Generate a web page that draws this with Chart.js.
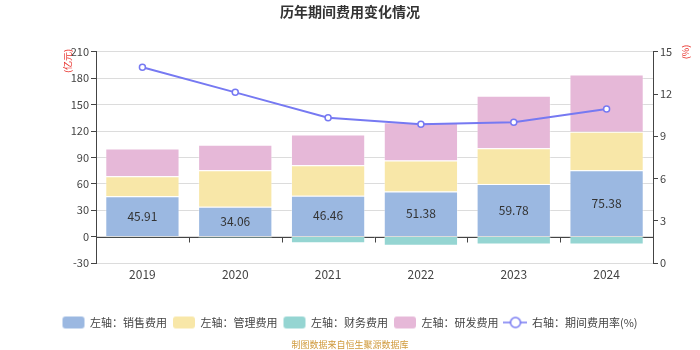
<!DOCTYPE html>
<html>
<head>
<meta charset="utf-8">
<script src="https://cdn.jsdelivr.net/npm/chart.js@4"></script>
<style>
  html, body { margin: 0; padding: 0; background: #fff; }
  #wrap { width: 700px; height: 350px; }
</style>
</head>
<body>
<div id="wrap"><canvas id="chart" width="700" height="350"></canvas></div>
<script>
const years = ["2019", "2020", "2021", "2022", "2023", "2024"];
const sales = [45.91, 34.06, 46.46, 51.38, 59.78, 75.38];
const admin = [22.6, 41.3, 34.6, 35.0, 40.7, 43.7];
const finance = [-0.8, -1.2, -7.6, -10.3, -9.1, -9.1];
const rnd = [31.6, 28.9, 35.1, 43.7, 59.7, 65.1];
const rate = [13.9, 12.12, 10.31, 9.86, 10.0, 10.93];

const leftTicks = [-30, 0, 30, 60, 90, 120, 150, 180, 210];
const rightTicks = [0, 3, 6, 9, 12, 15];

const FONT = "'Noto Sans CJK SC', 'Noto Sans', sans-serif";
const colors = {
  sales: "#9bb8e1",
  admin: "#f8e7a8",
  finance: "#95d5d2",
  rnd: "#e6b8d8",
  line: "#7679f2"
};

function legendIcon(type, color){
  const c = document.createElement("canvas");
  c.width = 24; c.height = 14;
  const g = c.getContext("2d");
  if(type === "box"){
    g.fillStyle = color;
    g.beginPath();
    g.roundRect(1, 1, 22, 12, 3);
    g.fill();
  } else {
    g.strokeStyle = color;
    g.lineWidth = 1.5;
    g.beginPath(); g.moveTo(0, 7); g.lineTo(24, 7); g.stroke();
    g.fillStyle = "#fff";
    g.beginPath(); g.arc(12, 7, 5, 0, Math.PI * 2); g.fill(); g.stroke();
  }
  return c;
}

const extras = {
  id: "extras",
  beforeDatasetsDraw(chart){
    const ctx = chart.ctx;
    const x = chart.scales.x, y = chart.scales.y;
    const y0 = Math.round(y.getPixelForValue(0)) + 0.5;
    ctx.save();
    ctx.strokeStyle = "#444";
    ctx.lineWidth = 1;
    ctx.beginPath();
    ctx.moveTo(x.left, y0); ctx.lineTo(x.right, y0);
    for(let i = 0; i <= years.length; i++){
      const px = Math.round(x.left + (x.right - x.left) * i / years.length) + 0.5;
      ctx.moveTo(px, y0); ctx.lineTo(px, y0 + 5);
    }
    ctx.stroke();
    ctx.restore();
  },
  afterDatasetsDraw(chart){
    const ctx = chart.ctx;
    const meta = chart.getDatasetMeta(1);
    ctx.save();
    ctx.font = "12px " + FONT;
    ctx.fillStyle = "#333";
    ctx.textAlign = "center";
    ctx.textBaseline = "middle";
    meta.data.forEach((bar, i) => {
      ctx.fillText(sales[i].toFixed(2), bar.x, (bar.y + bar.base) / 2);
    });
    ctx.restore();
  },
  afterDraw(chart){
    const ctx = chart.ctx;
    ctx.save();
    ctx.font = "9px " + FONT;
    ctx.fillStyle = "#e8302a";
    ctx.textAlign = "center";
    ctx.textBaseline = "middle";
    ctx.translate(68, 61); ctx.rotate(-Math.PI / 2);
    ctx.fillText("(亿元)", 0, 0);
    ctx.restore();
    ctx.save();
    ctx.font = "9px " + FONT;
    ctx.fillStyle = "#e8302a";
    ctx.textAlign = "center";
    ctx.textBaseline = "middle";
    ctx.translate(686, 52); ctx.rotate(-Math.PI / 2);
    ctx.fillText("(%)", 0, 0);
    ctx.restore();
    ctx.save();
    ctx.font = "9px " + FONT;
    ctx.fillStyle = "#d09a3c";
    ctx.textAlign = "center";
    ctx.textBaseline = "middle";
    ctx.fillText("制图数据来自恒生聚源数据库", 350, 345);
    ctx.restore();
  }
};

const chart = new Chart(document.getElementById("chart"), {
  type: "bar",
  data: {
    labels: years,
    datasets: [
      {
        type: "line", label: "右轴：期间费用率(%)", data: rate, yAxisID: "y1",
        borderColor: colors.line, borderWidth: 2, backgroundColor: "#fff",
        pointRadius: 3, pointBorderWidth: 1.5, pointBackgroundColor: "#fff",
        pointBorderColor: colors.line, tension: 0, order: 0
      },
      { label: "左轴：销售费用", data: sales, backgroundColor: colors.sales, order: 1,
        borderColor: "rgba(255,255,255,0.35)", borderWidth: 1 },
      { label: "左轴：管理费用", data: admin, backgroundColor: colors.admin, order: 1,
        borderColor: "rgba(255,255,255,0.35)", borderWidth: 1 },
      { label: "左轴：财务费用", data: finance, backgroundColor: colors.finance, order: 1,
        borderColor: "rgba(255,255,255,0.35)", borderWidth: 1 },
      { label: "左轴：研发费用", data: rnd, backgroundColor: colors.rnd, order: 1,
        borderColor: "rgba(255,255,255,0.35)", borderWidth: 1 }
    ]
  },
  options: {
    responsive: false,
    animation: false,
    maintainAspectRatio: false,
    layout: { padding: { top: 0, left: 0, right: 0, bottom: 12 } },
    datasets: { bar: { barPercentage: 0.8, categoryPercentage: 1 } },
    plugins: {
      title: {
        display: true,
        text: "历年期间费用变化情况",
        color: "#333",
        font: { family: FONT, size: 14, weight: "bold" },
        padding: { top: 3, bottom: 32 }
      },
      tooltip: { enabled: false },
      legend: {
        position: "bottom",
        labels: {
          usePointStyle: true,
          pointStyleWidth: 22,
          boxHeight: 12,
          padding: 6,
          color: "#444",
          font: { family: FONT, size: 11 },
          generateLabels(){
            return [
              { text: "左轴：销售费用", pointStyle: legendIcon("box", colors.sales), datasetIndex: 1 },
              { text: "左轴：管理费用", pointStyle: legendIcon("box", colors.admin), datasetIndex: 2 },
              { text: "左轴：财务费用", pointStyle: legendIcon("box", colors.finance), datasetIndex: 3 },
              { text: "左轴：研发费用", pointStyle: legendIcon("box", colors.rnd), datasetIndex: 4 },
              { text: "右轴：期间费用率(%)", pointStyle: legendIcon("line", colors.line), datasetIndex: 0 }
            ].map(o => Object.assign({ fontColor: "#444", hidden: false, lineWidth: 0 }, o));
          }
        }
      }
    },
    scales: {
      x: {
        stacked: true,
        grid: { display: false, drawTicks: false },
        border: { display: false },
        ticks: { color: "#444", font: { family: FONT, size: 12 }, padding: 4 },
        afterFit(s){ s.height = 48; }
      },
      y: {
        stacked: true,
        min: -30, max: 210,
        afterBuildTicks(s){ s.ticks = leftTicks.map(v => ({ value: v })); },
        grid: { color: "#dcdcdc", tickLength: 5, tickColor: "#444" },
        border: { display: true, color: "#444" },
        ticks: { color: "#444", font: { family: FONT, size: 11 }, padding: 2 },
        afterFit(s){ s.width = 96; }
      },
      y1: {
        position: "right",
        min: 0, max: 15,
        afterBuildTicks(s){ s.ticks = rightTicks.map(v => ({ value: v })); },
        grid: { drawOnChartArea: false, tickLength: 5, tickColor: "#444" },
        border: { display: true, color: "#444" },
        ticks: { color: "#444", font: { family: FONT, size: 11 }, padding: 2 },
        afterFit(s){ s.width = 47; }
      }
    }
  },
  plugins: [extras]
});
</script>
</body>
</html>
